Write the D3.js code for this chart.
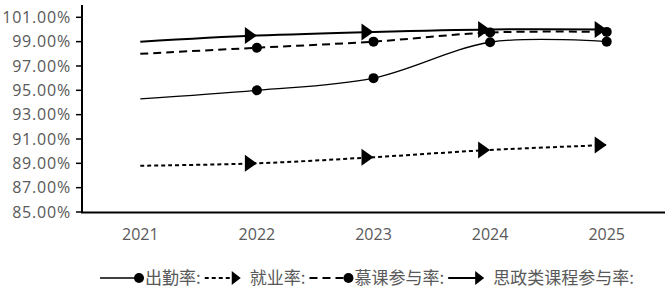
<!DOCTYPE html>
<html lang="zh">
<head>
  <meta charset="UTF-8">
  <title>比率趋势</title>
  <script src="https://d3js.org/d3.v7.min.js"></script>
  <style>
    body { margin: 0; background: #fff; }
    .tick-label { font-family: "Open Sans", sans-serif; font-size: 16px; fill: #595959; }
    .y-label { letter-spacing: 0.8px; }
    .legend-text { font-family: "Noto Sans CJK SC", sans-serif; font-size: 17px; fill: #595959; }
  </style>
</head>
<body>
  <svg width="669" height="294"></svg>
  <script>
    const width = 669, height = 294;
    const svg = d3.select("svg");

    // data
    const years = ["2021", "2022", "2023", "2024", "2025"];
    const attendance = [94.3, 95.0, 96.0, 98.95, 99.0];      // 出勤率
    const employment = [88.8, 89.0, 89.5, 90.1, 90.5];       // 就业率
    const mooc = [98.0, 98.5, 99.0, 99.75, 99.8];            // 慕课参与率
    const ideology = [99.0, 99.5, 99.8, 100.0, 100.0];       // 思政类课程参与率
    const yTicks = [85, 87, 89, 91, 93, 95, 97, 99, 101];

    const series = [
      { name: "出勤率:", values: attendance, marker: "circle", width: 1.3, dash: null },
      { name: "就业率:", values: employment, marker: "triangle", width: 2, dash: "4,3" },
      { name: "慕课参与率:", values: mooc, marker: "circle", width: 2, dash: "8,5" },
      { name: "思政类课程参与率:", values: ideology, marker: "triangle", width: 2, dash: null }
    ];

    const x = d3.scaleBand().domain(years).range([82, 665]);
    const xc = d => x(d) + x.bandwidth() / 2;
    const y = d3.scaleLinear().domain([85, 101]).range([212, 17.3]);

    // y axis
    svg.append("line").attr("x1", 82).attr("x2", 82).attr("y1", 5).attr("y2", 213)
      .attr("stroke", "#000").attr("stroke-width", 2);
    svg.selectAll(".ytick").data(yTicks).enter().append("line")
      .attr("x1", 76).attr("x2", 82)
      .attr("y1", d => y(d)).attr("y2", d => y(d))
      .attr("stroke", "#000").attr("stroke-width", 1.5);
    svg.selectAll(".ylab").data(yTicks).enter().append("text")
      .attr("class", "tick-label y-label")
      .attr("x", 71).attr("y", d => y(d)).attr("dy", "0.35em")
      .attr("text-anchor", "end")
      .text(d => d.toFixed(2) + "%");

    // x axis
    svg.append("line").attr("x1", 81).attr("x2", 665).attr("y1", 212.5).attr("y2", 212.5)
      .attr("stroke", "#000").attr("stroke-width", 2);
    svg.selectAll(".xlab").data(years).enter().append("text")
      .attr("class", "tick-label")
      .attr("x", d => xc(d)).attr("y", 239.5)
      .attr("text-anchor", "middle")
      .text(d => d);

    const line = d3.line()
      .x((d, i) => xc(years[i]))
      .y(d => y(d))
      .curve(d3.curveCardinal.tension(0));

    const tri = (cx, cy) => `M${cx},${cy} L${cx - 12},${cy - 8.5} L${cx - 12},${cy + 8.5} Z`;

    series.forEach(s => {
      svg.append("path")
        .attr("d", line(s.values))
        .attr("fill", "none")
        .attr("stroke", "#000")
        .attr("stroke-width", s.width)
        .attr("stroke-dasharray", s.dash);

      // markers on every point after the first
      const pts = s.values.slice(1).map((v, i) => [xc(years[i + 1]), y(v)]);
      if (s.marker === "circle") {
        svg.selectAll(null).data(pts).enter().append("circle")
          .attr("cx", d => d[0]).attr("cy", d => d[1]).attr("r", 5).attr("fill", "#000");
      } else {
        svg.selectAll(null).data(pts).enter().append("path")
          .attr("d", d => tri(d[0], d[1])).attr("fill", "#000");
      }
    });

    // legend
    const ly = 278;
    let lx = 100;
    series.forEach(s => {
      const g = svg.append("g");
      const markEnd = s.marker === "circle" ? lx + 39 : lx + 36;
      g.append("line").attr("x1", lx).attr("x2", markEnd - (s.marker === "circle" ? 0 : 6))
        .attr("y1", ly).attr("y2", ly)
        .attr("stroke", "#000").attr("stroke-width", s.width)
        .attr("stroke-dasharray", s.dash);
      if (s.marker === "circle") {
        g.append("circle").attr("cx", markEnd).attr("cy", ly).attr("r", 5).attr("fill", "#000");
      } else {
        g.append("path").attr("d", `M${markEnd},${ly} L${markEnd - 9},${ly - 7} L${markEnd - 9},${ly + 7} Z`)
          .attr("fill", "#000");
      }
      const tx = lx + 45;
      const t = g.append("text").attr("class", "legend-text")
        .attr("x", tx).attr("y", ly).attr("dy", "0.35em").text(s.name);
      lx = tx + t.node().getComputedTextLength() + 4;
    });
  </script>
</body>
</html>
